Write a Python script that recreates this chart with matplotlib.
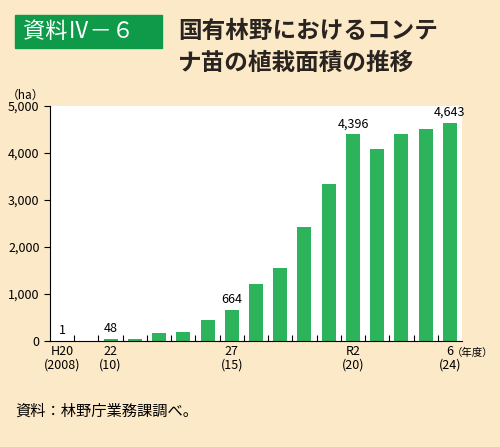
import numpy as np
import matplotlib.pyplot as plt
from matplotlib.patches import Rectangle

plt.rcParams['font.family'] = ['Noto Sans CJK JP', 'DejaVu Sans']

years = ['H20', 'H21', 'H22', 'H23', 'H24', 'H25', 'H26', 'H27', 'H28', 'H29',
         'H30', 'R1', 'R2', 'R3', 'R4', 'R5', 'R6']
area = [1, 0, 48, 40, 180, 190, 440, 664, 1220, 1560, 2420, 3350, 4396, 4080, 4410, 4510, 4643]
labeled = {0: '1', 2: '48', 7: '664', 12: '4,396', 16: '4,643'}
tick_idx = [0, 2, 7, 12, 16]
tick_labels = ['H20\n(2008)', '22\n(10)', '27\n(15)', 'R2\n(20)', '6\n(24)']

bg = '#fce9c8'
fig = plt.figure(figsize=(5, 4.47), dpi=100, facecolor=bg)
ax = fig.add_axes([0.1, 0.237, 0.824, 0.526])
x = np.arange(len(area))
ax.bar(x, area, width=0.58, color='#2db35c')
ax.set_xlim(-0.5, len(area) - 0.5)
ax.set_ylim(0, 5000)
ax.set_yticks(range(0, 5001, 1000))
ax.set_yticklabels(['0', '1,000', '2,000', '3,000', '4,000', '5,000'], fontsize=9)
ax.set_xticks(tick_idx)
ax.set_xticklabels(tick_labels, fontsize=9, linespacing=1.0)
ax.tick_params(axis='x', length=0, pad=3)
ax.tick_params(axis='y', length=4, width=0.8)
ax.set_xticks(np.arange(0.5, len(area) - 1, 1), minor=True)
ax.tick_params(axis='x', which='minor', length=4, direction='in', width=0.8)
for s in ['top', 'right']:
    ax.spines[s].set_visible(False)
for i, t in labeled.items():
    ax.text(i, area[i] + 80, t, ha='center', va='bottom', fontsize=9)
ax.text(-0.06, 1.03, '（ha）', transform=ax.transAxes, ha='center', fontsize=8.5)
ax.text(0.975, -0.065, '（年度）', transform=ax.transAxes, ha='left', fontsize=7.5)

fig.patches.append(Rectangle((15 / 500, 1 - 48 / 447), 147 / 500, 33 / 447,
                             transform=fig.transFigure, color='#0f9a4a'))
fig.text(23 / 500, 1 - 31 / 447, '資料Ⅳ－６', color='white', fontsize=16, va='center')
fig.text(178 / 500, 1 - 31 / 447, '国有林野におけるコンテ', fontsize=17,
         va='center', weight='bold', color='#2a2420')
fig.text(178 / 500, 1 - 63 / 447, 'ナ苗の植栽面積の推移', fontsize=17,
         va='center', weight='bold', color='#2a2420')
fig.text(15 / 500, 1 - 411 / 447, '資料：林野庁業務課調べ。', fontsize=11, va='center')

plt.savefig('out.png', dpi=100, facecolor=bg)
